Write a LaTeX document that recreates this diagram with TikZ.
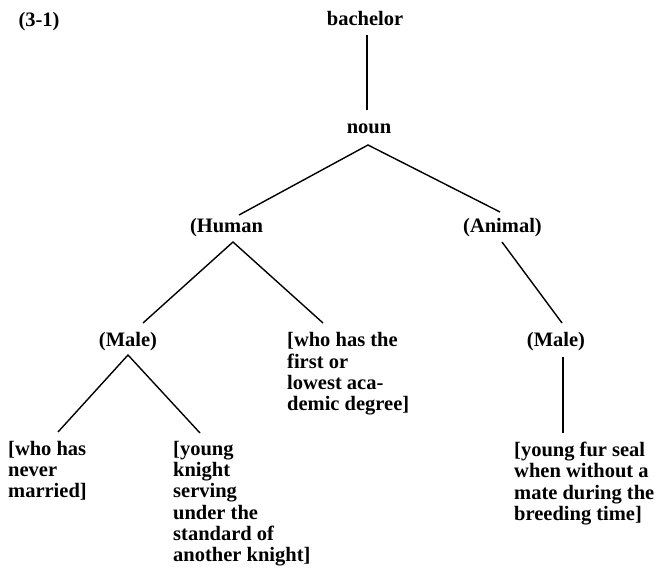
\documentclass[tikz,border=0pt]{standalone}
\usepackage{fontspec}
\setmainfont{Liberation Serif}
\begin{document}
\begin{tikzpicture}[x=1pt,y=-1pt,
  lbl/.style={font=\fontsize{20.5}{21.2}\selectfont\bfseries, inner sep=0pt, anchor=base},
  leaf/.style={lbl, align=left, anchor=north west},
  edge/.style={line width=1.4pt}]
\useasboundingbox (0,0) rectangle (659,570);
\node[lbl] (num) at (39,26) {(3-1)};
\node[lbl] (bach) at (365,25) {bachelor};
\node[lbl] (noun) at (369,133) {noun};
\node[lbl] (hum) at (226.5,232) {(Human};
\node[lbl] (ani) at (502.5,232) {(Animal)};
\node[lbl] (male1) at (128,346) {(Male)};
\node[lbl] (male2) at (556,346) {(Male)};
\node[leaf] (acad) at (287,332.5) {[who has the\\first or\\lowest aca-\\demic degree]};
\node[leaf] (never) at (8,441) {[who has\\never\\married]};
\node[leaf] (knight) at (173,441) {[young\\knight\\serving\\under the\\standard of\\another knight]};
\node[leaf] (seal) at (514,442) {[young fur seal\\when without a\\mate during the\\breeding time]};
% connector end points, named after the nodes they join
\coordinate (bach-s) at (367,35);
\coordinate (noun-n) at (367,110);
\coordinate (noun-s) at (368,145);
\coordinate (hum-n) at (239,215);
\coordinate (ani-n) at (500,212);
\coordinate (hum-s) at (233,242);
\coordinate (male1-n) at (143,323);
\coordinate (acad-n) at (323,323);
\coordinate (ani-s) at (502,242);
\coordinate (male2-n) at (562,323);
\coordinate (male1-s) at (128,355);
\coordinate (never-n) at (58,432);
\coordinate (knight-n) at (200,433);
\coordinate (male2-s) at (563,357);
\coordinate (seal-n) at (563,433);
\draw[edge] (bach-s) -- (noun-n);
\draw[edge] (hum-n) -- (noun-s) -- (ani-n);
\draw[edge] (male1-n) -- (hum-s) -- (acad-n);
\draw[edge] (ani-s) -- (male2-n);
\draw[edge] (never-n) -- (male1-s) -- (knight-n);
\draw[edge] (male2-s) -- (seal-n);
\end{tikzpicture}
\end{document}
